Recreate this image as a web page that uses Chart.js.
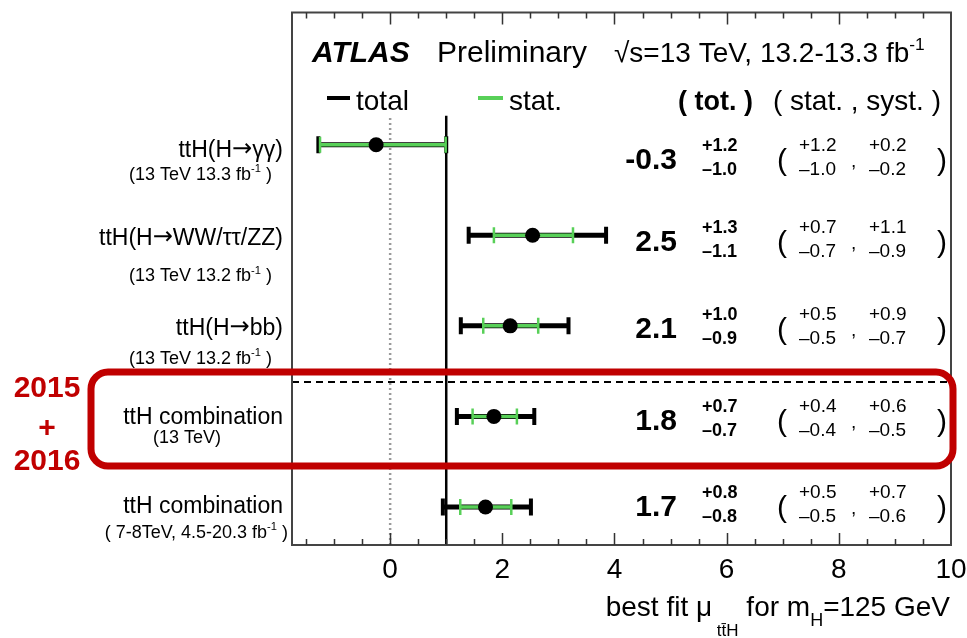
<!DOCTYPE html>
<html lang="en">
<head>
<meta charset="UTF-8">
<title>ttH signal strength</title>
<script src="https://cdn.jsdelivr.net/npm/chart.js"></script>
<style>
  html, body { margin: 0; padding: 0; background: #fff; }
  #wrap { width: 967px; height: 638px; }
</style>
</head>
<body>
<div id="wrap"><canvas id="muChart"></canvas></div>
<script>
// rows, top to bottom
const channels = ['ttH(H\u2192\u03b3\u03b3)', 'ttH(H\u2192WW/\u03c4\u03c4/ZZ)', 'ttH(H\u2192bb)', 'ttH combination', 'ttH combination'];
const channelNotes = ['(13 TeV 13.3 fb^{-1} )', '(13 TeV 13.2 fb^{-1} )', '(13 TeV 13.2 fb^{-1} )', '(13 TeV)', '( 7-8TeV, 4.5-20.3 fb^{-1} )'];
const rowPos = [5, 4, 3, 2, 1];

// best fit and intervals as drawn
const muFit  = [-0.25, 2.54, 2.14, 1.85, 1.70];
const totLo  = [-1.28, 1.40, 1.26, 1.19, 0.94];
const totHi  = [1.00, 3.85, 3.18, 2.57, 2.51];
const statLo = [-1.25, 1.85, 1.66, 1.47, 1.25];
const statHi = [0.99, 3.26, 2.64, 2.26, 2.16];

// printed numbers
const muText   = ['-0.3', '2.5', '2.1', '1.8', '1.7'];
const totUp    = ['+1.2', '+1.3', '+1.0', '+0.7', '+0.8'];
const totDown  = ['\u20131.0', '\u20131.1', '\u20130.9', '\u20130.7', '\u20130.8'];
const statUp   = ['+1.2', '+0.7', '+0.5', '+0.4', '+0.5'];
const statDown = ['\u20131.0', '\u20130.7', '\u20130.5', '\u20130.4', '\u20130.5'];
const systUp   = ['+0.2', '+1.1', '+0.9', '+0.6', '+0.7'];
const systDown = ['\u20130.2', '\u20130.9', '\u20130.7', '\u20130.5', '\u20130.6'];

const xTickLabels = [0, 2, 4, 6, 8, 10];
const smValue = 1;
const sepValue = 2.38;   // dashed line between 2016 and older results
const refTop = 5.32;

const FONT = '"Liberation Sans", Arial, Helvetica, sans-serif';
const ARROW_FONT = '"DejaVu Sans", sans-serif';
const GREEN = '#58d058';
const RED = '#c00000';

// tiny markup: ^{..} superscript, _{..} subscript; arrows get their own font
function parseRich(str, size, weight, style) {
  const parts = str.split(/(\^\{[^}]*\}|_\{[^}]*\}|\u2192)/).filter(s => s.length);
  return parts.map(p => {
    if (p.startsWith('^{')) return { t: p.slice(2, -1), size: size * 0.62, weight, style, dy: -size * 0.42 };
    if (p.startsWith('_{')) return { t: p.slice(2, -1), size: size * 0.62, weight, style, dy: size * 0.3 };
    if (p === '\u2192') return { t: p, size: size * 1.05, weight: 'normal', style: 'normal', dy: -1, family: ARROW_FONT };
    return { t: p, size, weight, style: style, dy: 0 };
  });
}

function fontOf(s) {
  return (s.style || 'normal') + ' ' + (s.weight || 'normal') + ' ' + s.size + 'px ' + (s.family || FONT);
}

function drawSegs(ctx, segs, x, y, align, color) {
  ctx.save();
  ctx.textAlign = 'left';
  ctx.textBaseline = 'alphabetic';
  ctx.fillStyle = color || '#000';
  let widths = segs.map(s => {
    ctx.font = fontOf(s);
    return ctx.measureText(s.t).width;
  });
  let total = widths.reduce((a, b) => a + b, 0);
  let cx = align === 'right' ? x - total : align === 'center' ? x - total / 2 : x;
  segs.forEach((s, i) => {
    ctx.font = fontOf(s);
    ctx.fillText(s.t, cx, y + s.dy);
    cx += widths[i];
  });
  ctx.restore();
}

function text(ctx, str, x, y, size, align, weight, style, color) {
  drawSegs(ctx, parseRich(str, size, weight || 'normal', style || 'normal'), x, y, align, color);
}

const datasets = [];
datasets.push({
  data: muFit.map((v, i) => ({ x: v, y: rowPos[i] })),
  pointRadius: 7.5, pointBackgroundColor: '#000', pointBorderWidth: 0, showLine: false, order: 0
});
rowPos.forEach((r, i) => {
  datasets.push({
    data: [{ x: statLo[i], y: r }, { x: statHi[i], y: r }],
    showLine: true, borderColor: GREEN, borderWidth: 3.5, borderCapStyle: 'butt',
    pointStyle: 'line', pointRotation: 90, pointRadius: 8,
    pointBorderColor: GREEN, pointBorderWidth: 2.5, order: 1
  });
  datasets.push({
    data: [{ x: totLo[i], y: r }, { x: totHi[i], y: r }],
    showLine: true, borderColor: '#000', borderWidth: 5, borderCapStyle: 'butt',
    pointStyle: 'line', pointRotation: 90, pointRadius: 8.5,
    pointBorderColor: '#000', pointBorderWidth: 4, order: 2
  });
});
// reference lines
datasets.push({
  data: [{ x: smValue, y: 0.58 }, { x: smValue, y: refTop }],
  showLine: true, borderColor: '#000', borderWidth: 2.5, pointRadius: 0, order: 5
});
datasets.push({
  data: [{ x: 0, y: 0.58 }, { x: 0, y: refTop }],
  showLine: true, borderColor: '#9a9a9a', borderWidth: 2.5, borderDash: [2, 3], pointRadius: 0, order: 6
});
datasets.push({
  data: [{ x: -1.75, y: sepValue }, { x: 10, y: sepValue }],
  showLine: true, borderColor: '#000', borderWidth: 2, borderDash: [7, 5], pointRadius: 0, order: 7
});

const decorations = {
  id: 'decorations',
  afterDraw(chart) {
    const ctx = chart.ctx;
    const a = chart.chartArea;
    const xs = chart.scales.x, ys = chart.scales.y;

    // frame
    ctx.save();
    ctx.strokeStyle = '#444';
    ctx.lineWidth = 2;
    ctx.strokeRect(a.left, a.top, a.right - a.left, a.bottom - a.top);

    // inward ticks, top and bottom
    ctx.strokeStyle = '#333';
    ctx.lineWidth = 1.5;
    for (let v = -1.5; v < 10; v += 0.5) {
      const px = Math.round(xs.getPixelForValue(v)) + 0.5;
      const len = xTickLabels.includes(v) ? 12 : 6;
      ctx.beginPath();
      ctx.moveTo(px, a.bottom); ctx.lineTo(px, a.bottom - len);
      ctx.moveTo(px, a.top); ctx.lineTo(px, a.top + len);
      ctx.stroke();
    }
    ctx.restore();

    xTickLabels.forEach(v => text(ctx, String(v), xs.getPixelForValue(v), a.bottom + 33, 28, 'center'));

    // axis title
    drawSegs(ctx, [
      { t: 'best fit \u03bc', size: 28, dy: 0 },
      { t: ' tt\u0304H', size: 17, dy: 20 },
      { t: ' for m', size: 28, dy: 0 },
      { t: 'H', size: 18, dy: 10 },
      { t: '=125 GeV', size: 28, dy: 0 }
    ], a.right - 1, 616, 'right');

    // header
    text(ctx, 'ATLAS', 312, 62, 30, 'left', 'bold', 'italic');
    text(ctx, 'Preliminary', 437, 62, 30, 'left');
    text(ctx, '\u221as=13 TeV, 13.2-13.3 fb^{-1}', 614, 62, 28, 'left');

    // legend
    ctx.save();
    ctx.lineWidth = 4;
    ctx.strokeStyle = '#000';
    ctx.beginPath(); ctx.moveTo(327, 98); ctx.lineTo(350, 98); ctx.stroke();
    ctx.strokeStyle = GREEN;
    ctx.beginPath(); ctx.moveTo(478, 98); ctx.lineTo(503, 98); ctx.stroke();
    ctx.restore();
    text(ctx, 'total', 356, 110, 28, 'left');
    text(ctx, 'stat.', 509, 110, 28, 'left');
    text(ctx, '( tot. )', 678, 110, 27, 'left', 'bold');
    text(ctx, '( stat. , syst. )', 941, 110, 28, 'right');

    // row labels and numbers
    const mainOff = [12, 10, 9, 8, 6];
    const noteOff = [35, 46, 38, 27, 31];
    const noteAnchor = [[272, 'right'], [272, 'right'], [272, 'right'], [187, 'center'], [288, 'right']];
    const numOff = [14, 6, 2, 4, -1];
    rowPos.forEach((r, i) => {
      const py = ys.getPixelForValue(r);
      text(ctx, channels[i], 283, py + mainOff[i], 23, 'right');
      text(ctx, channelNotes[i], noteAnchor[i][0], py + noteOff[i], 18, noteAnchor[i][1]);

      const c = py + numOff[i];
      text(ctx, muText[i], 677, c + 10, 30, 'right', 'bold');
      text(ctx, totUp[i], 702, c - 8, 18, 'left', 'bold');
      text(ctx, totDown[i], 702, c + 16, 18, 'left', 'bold');
      text(ctx, '(', 777, c + 11, 30, 'left');
      text(ctx, statUp[i], 799, c - 8, 19, 'left');
      text(ctx, statDown[i], 799, c + 16, 19, 'left');
      text(ctx, ',', 851, c + 8, 19, 'left');
      text(ctx, systUp[i], 869, c - 8, 19, 'left');
      text(ctx, systDown[i], 869, c + 16, 19, 'left');
      text(ctx, ')', 937, c + 11, 30, 'left');
    });

    // 2015+2016 highlight
    ctx.save();
    ctx.strokeStyle = RED;
    ctx.lineWidth = 7;
    ctx.beginPath();
    ctx.roundRect(91, 372, 862, 94, 17);
    ctx.stroke();
    ctx.restore();
    text(ctx, '2015', 47, 397, 30, 'center', 'bold', 'normal', RED);
    text(ctx, '+', 47, 437, 30, 'center', 'bold', 'normal', RED);
    text(ctx, '2016', 47, 470, 30, 'center', 'bold', 'normal', RED);
  }
};

new Chart(document.getElementById('muChart'), {
  type: 'scatter',
  data: { datasets: datasets },
  options: {
    responsive: true,
    maintainAspectRatio: false,
    devicePixelRatio: 1,
    animation: false,
    events: [],
    layout: { padding: { left: 292, right: 16, top: 10, bottom: 93 } },
    plugins: { legend: { display: false }, tooltip: { enabled: false } },
    scales: {
      x: { type: 'linear', min: -1.75, max: 10, display: false },
      y: { type: 'linear', min: 0.58, max: 6.46, display: false }
    }
  },
  plugins: [decorations]
});
</script>
</body>
</html>
